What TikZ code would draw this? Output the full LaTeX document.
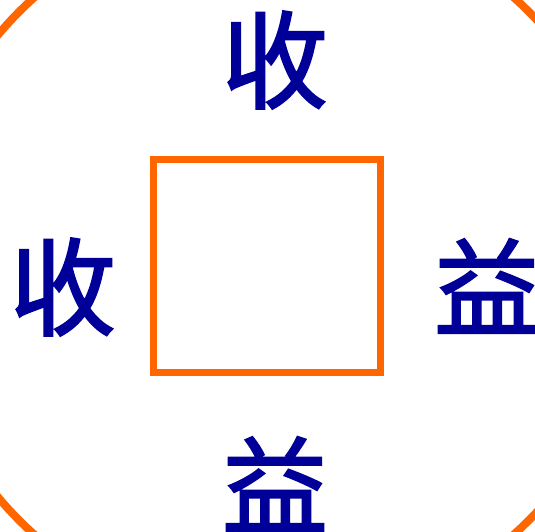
\documentclass[tikz,border=0pt]{standalone}
\usepackage{fontspec}
\newfontfamily\cjk{Noto Sans CJK SC}[FakeBold=2]
\usetikzlibrary{positioning}
\definecolor{rimColor}{HTML}{FF6600}
\definecolor{glyphColor}{HTML}{000099}
\tikzset{
    coin rim/.style={
        draw=rimColor,
        line width=8pt,
    },
    coin hole/.style={
        rectangle,
        draw=rimColor,
        line width=7.5pt,
        minimum width=227pt,
        minimum height=213pt,
        inner sep=0pt,
    },
    coin glyph/.style={
        text=glyphColor,
        font=\cjk\fontsize{106}{106}\selectfont,
        inner sep=0pt,
    },
}

\begin{document}
\begin{tikzpicture}[x=1pt, y=-1pt]

\useasboundingbox (0,0) rectangle (535,532);

% ── RIM AND HOLE ───────────────────────────────────────────────────

\begin{scope}
\clip (0,0) rectangle (535,532);
\draw[coin rim] (274,266) circle[radius=360];
\end{scope}

\node[coin hole] (hole) at (267,266) {};

% ── CHARACTERS ─────────────────────────────────────────────────────

\node[coin glyph] (top) at (275,60) {收};
\node[coin glyph] (left) at (63,287) {收};
\node[coin glyph] (right) at (487,286) {益};
\node[coin glyph] (bottom) at (275,484) {益};

\end{tikzpicture}
\end{document}
